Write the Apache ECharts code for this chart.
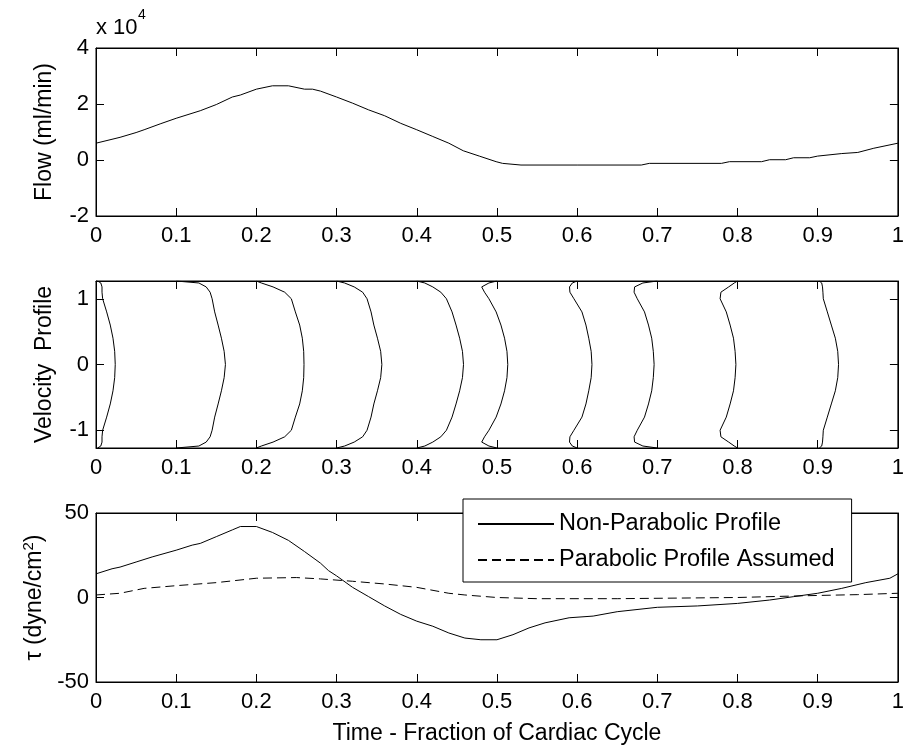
<!DOCTYPE html>
<html>
<head>
<meta charset="utf-8">
<script src="https://cdn.jsdelivr.net/npm/echarts@6/dist/echarts.min.js"></script>
<style>
  html, body { margin: 0; padding: 0; background: #fff; }
  #chart { width: 907px; height: 749px; }
</style>
</head>
<body>
<div id="chart"></div>
<script>
// flow waveform, units of 10^4 ml/min
const flowT = [0, 0.03, 0.05, 0.06, 0.08, 0.1, 0.13, 0.15, 0.17, 0.18, 0.2, 0.22, 0.24, 0.26, 0.27, 0.28, 0.3, 0.32, 0.34, 0.36, 0.38, 0.4, 0.42, 0.44, 0.458, 0.478, 0.499, 0.507, 0.53, 0.6, 0.68, 0.69, 0.78, 0.79, 0.83, 0.84, 0.86, 0.87, 0.89, 0.9, 0.93, 0.95, 0.97, 1.0]
const flowQ = [0.60, 0.81, 0.98, 1.08, 1.29, 1.49, 1.76, 1.98, 2.25, 2.32, 2.53, 2.65, 2.65, 2.53, 2.53, 2.46, 2.25, 2.03, 1.79, 1.58, 1.31, 1.08, 0.84, 0.60, 0.33, 0.14, -0.06, -0.12, -0.18, -0.18, -0.18, -0.12, -0.12, -0.06, -0.06, 0.01, 0.01, 0.08, 0.08, 0.14, 0.23, 0.27, 0.42, 0.60]

// velocity profiles: radial position and time position of each profile curve
const profileY = [1.27, 1.24, 1.18, 1.1, 1.0, 0.8, 0.6, 0.4, 0.2, 0, -0.2, -0.4, -0.6, -0.8, -1.0, -1.1, -1.18, -1.24, -1.27]
const profile0 = [0.002, 0.006, 0.0075, 0.0075, 0.0083, 0.0133, 0.0178, 0.0212, 0.0233, 0.024, 0.0233, 0.0212, 0.0178, 0.0133, 0.0083, 0.0075, 0.0075, 0.006, 0.002]
const profile1 = [0.1, 0.1283, 0.1374, 0.1423, 0.1448, 0.148, 0.1523, 0.1564, 0.1598, 0.1614, 0.1598, 0.1564, 0.1523, 0.148, 0.1448, 0.1423, 0.1374, 0.1283, 0.1]
const profile2 = [0.2, 0.2062, 0.2208, 0.2353, 0.2436, 0.2486, 0.254, 0.2573, 0.259, 0.2594, 0.259, 0.2573, 0.254, 0.2486, 0.2436, 0.2353, 0.2208, 0.2062, 0.2]
const profile3 = [0.3, 0.31, 0.322, 0.3325, 0.338, 0.343, 0.3465, 0.351, 0.355, 0.3565, 0.355, 0.351, 0.3465, 0.343, 0.338, 0.3325, 0.322, 0.31, 0.3]
const profile4 = [0.4, 0.41, 0.42, 0.43, 0.437, 0.444, 0.449, 0.4535, 0.457, 0.4583, 0.457, 0.4535, 0.449, 0.444, 0.437, 0.43, 0.42, 0.41, 0.4]
const profile5 = [0.5, 0.49, 0.481, 0.4845, 0.49, 0.499, 0.505, 0.5095, 0.5125, 0.5135, 0.5125, 0.5095, 0.505, 0.499, 0.49, 0.4845, 0.481, 0.49, 0.5]
const profile6 = [0.6, 0.594, 0.5905, 0.591, 0.596, 0.606, 0.611, 0.6145, 0.6175, 0.6185, 0.6175, 0.6145, 0.611, 0.606, 0.596, 0.591, 0.5905, 0.594, 0.6]
const profile7 = [0.7, 0.682, 0.6717, 0.671, 0.675, 0.684, 0.689, 0.693, 0.695, 0.696, 0.695, 0.693, 0.689, 0.684, 0.675, 0.671, 0.6717, 0.682, 0.7]
const profile8 = [0.8, 0.796, 0.789, 0.7793, 0.7783, 0.786, 0.7908, 0.795, 0.797, 0.798, 0.797, 0.795, 0.7908, 0.786, 0.7783, 0.7793, 0.789, 0.796, 0.8]
const profile9 = [0.902, 0.905, 0.906, 0.9065, 0.907, 0.912, 0.917, 0.922, 0.925, 0.926, 0.925, 0.922, 0.917, 0.912, 0.907, 0.9065, 0.906, 0.905, 0.902]

// wall shear stress (dyne/cm^2)
const tauT = [0, 0.02, 0.03, 0.05, 0.07, 0.1, 0.12, 0.13, 0.15, 0.17, 0.18, 0.2, 0.22, 0.24, 0.26, 0.28, 0.29, 0.3, 0.32, 0.34, 0.36, 0.38, 0.4, 0.42, 0.44, 0.46, 0.48, 0.5, 0.52, 0.54, 0.56, 0.59, 0.62, 0.65, 0.7, 0.75, 0.8, 0.84, 0.87, 0.9, 0.93, 0.96, 0.99, 1.0]
const tauNonParabolic = [14, 17, 18, 21, 24, 28, 31, 32, 36, 40, 42, 42, 38.5, 33.8, 27.2, 20.3, 15.9, 12.8, 6, 0.5, -5, -10, -14, -17, -21, -24, -25, -25, -22, -18, -15, -12, -11, -8.4, -5.8, -5, -3.5, -1.5, 0.5, 2.5, 5.4, 8.8, 11.4, 14]
const tauParT = [0, 0.03, 0.06, 0.1, 0.15, 0.2, 0.25, 0.28, 0.32, 0.36, 0.4, 0.44, 0.46, 0.5, 0.55, 0.65, 0.8, 0.88, 0.95, 1.0]
const tauParabolic = [1.5, 2.5, 5.4, 7, 8.8, 11.4, 11.8, 11, 9.6, 8, 6, 2.5, 1.5, 0, -0.7, -0.7, 0, 1, 1.7, 2.5]

const xTicks = [0, 0.1, 0.2, 0.3, 0.4, 0.5, 0.6, 0.7, 0.8, 0.9, 1]

const FONT = 'Liberation Sans, Arial, Helvetica, sans-serif'
const pair = (xs, ys) => xs.map((x, i) => [x, ys[i]])

const grids = [
  { left: 96, top: 48, width: 803, height: 168 },
  { left: 96, top: 281, width: 803, height: 167 },
  { left: 96, top: 513, width: 803, height: 169 }
]

function xAxes(g, name) {
  const base = {
    type: 'value', gridIndex: g, min: 0, max: 1,
    axisLine: { onZero: false, lineStyle: { color: '#000', width: 1 } },
    axisTick: { inside: true, length: 8, lineStyle: { color: '#000' }, customValues: xTicks },
    splitLine: { show: false }
  }
  return [
    Object.assign({}, base, {
      position: 'bottom',
      axisLabel: { customValues: xTicks, color: '#000', fontSize: 22, fontFamily: FONT, margin: 9 },
      name: name || '', nameLocation: 'middle', nameGap: 40,
      nameTextStyle: { color: '#000', fontSize: 23, fontFamily: FONT }
    }),
    Object.assign({}, base, { position: 'top', axisLabel: { show: false } })
  ]
}

function yAxes(g, min, max, ticks, name, gap, rich) {
  const base = {
    type: 'value', gridIndex: g, min: min, max: max,
    axisLine: { onZero: false, lineStyle: { color: '#000', width: 1 } },
    axisTick: { inside: true, length: 8, lineStyle: { color: '#000' }, customValues: ticks },
    splitLine: { show: false }
  }
  return [
    Object.assign({}, base, {
      position: 'left',
      axisLabel: { customValues: ticks, color: '#000', fontSize: 22, fontFamily: FONT, margin: 7 },
      name: name, nameLocation: 'middle', nameRotate: 90, nameGap: gap,
      nameTextStyle: { color: '#000', fontSize: 23, fontFamily: FONT, rich: rich }
    }),
    Object.assign({}, base, { position: 'right', axisLabel: { show: false } })
  ]
}

const profiles = [profile0, profile1, profile2, profile3, profile4, profile5, profile6, profile7, profile8, profile9]

const thin = { color: '#000', width: 1 }

const series = [
  {
    type: 'line', xAxisIndex: 0, yAxisIndex: 0, data: pair(flowT, flowQ),
    symbol: 'none', lineStyle: thin, silent: true
  }
].concat(profiles.map(p => ({
  type: 'line', xAxisIndex: 2, yAxisIndex: 2, data: pair(p, profileY),
  symbol: 'none', lineStyle: thin, silent: true
}))).concat([
  {
    name: 'Non-Parabolic Profile', type: 'line', xAxisIndex: 4, yAxisIndex: 4,
    data: pair(tauT, tauNonParabolic), symbol: 'none', lineStyle: thin,
    itemStyle: { color: '#000' }, silent: true
  },
  {
    name: 'Parabolic Profile Assumed', type: 'line', xAxisIndex: 4, yAxisIndex: 4,
    data: pair(tauParT, tauParabolic), symbol: 'none',
    lineStyle: { color: '#000', width: 1, type: [9, 5] },
    itemStyle: { color: '#000' }, silent: true
  }
])

const chart = echarts.init(document.getElementById('chart'), null, { renderer: 'canvas' })
chart.setOption({
  animation: false,
  backgroundColor: '#fff',
  grid: grids.map(g => Object.assign({ show: true, borderColor: '#000', borderWidth: 1, backgroundColor: '#fff' }, g)),
  xAxis: [].concat(xAxes(0), xAxes(1), xAxes(2, 'Time - Fraction of Cardiac Cycle')),
  yAxis: [].concat(
    yAxes(0, -2, 4, [-2, 0, 2, 4], 'Flow (ml/min)', 40),
    yAxes(1, -1.27, 1.27, [-1, 0, 1], 'Velocity  Profile', 40),
    yAxes(2, -50, 50, [-50, 0, 50], '{a|τ (dyne/cm}{s|2}{a|)}', 42, {
      a: { fontSize: 23, fontFamily: FONT, color: '#000', verticalAlign: 'bottom' },
      s: { fontSize: 15, fontFamily: FONT, color: '#000', verticalAlign: 'top', padding: [0, 0, 10, 0] }
    })
  ),
  legend: {
    data: ['Non-Parabolic Profile', 'Parabolic Profile Assumed'],
    orient: 'vertical', left: 463, top: 499,
    backgroundColor: '#fff', borderColor: '#000', borderWidth: 1,
    padding: [12, 17, 9, 14], itemGap: 10, itemWidth: 76, itemHeight: 14,
    itemStyle: { opacity: 0 },
    textStyle: { color: '#000', fontSize: 23.5, fontFamily: FONT, lineHeight: 26 }
  },
  graphic: [
    { type: 'text', left: 96, top: 17, style: { text: 'x 10', font: '22px ' + FONT, fill: '#000' } },
    { type: 'text', left: 138, top: 8, style: { text: '4', font: '14px ' + FONT, fill: '#000' } }
  ],
  series: series
})
</script>
</body>
</html>
